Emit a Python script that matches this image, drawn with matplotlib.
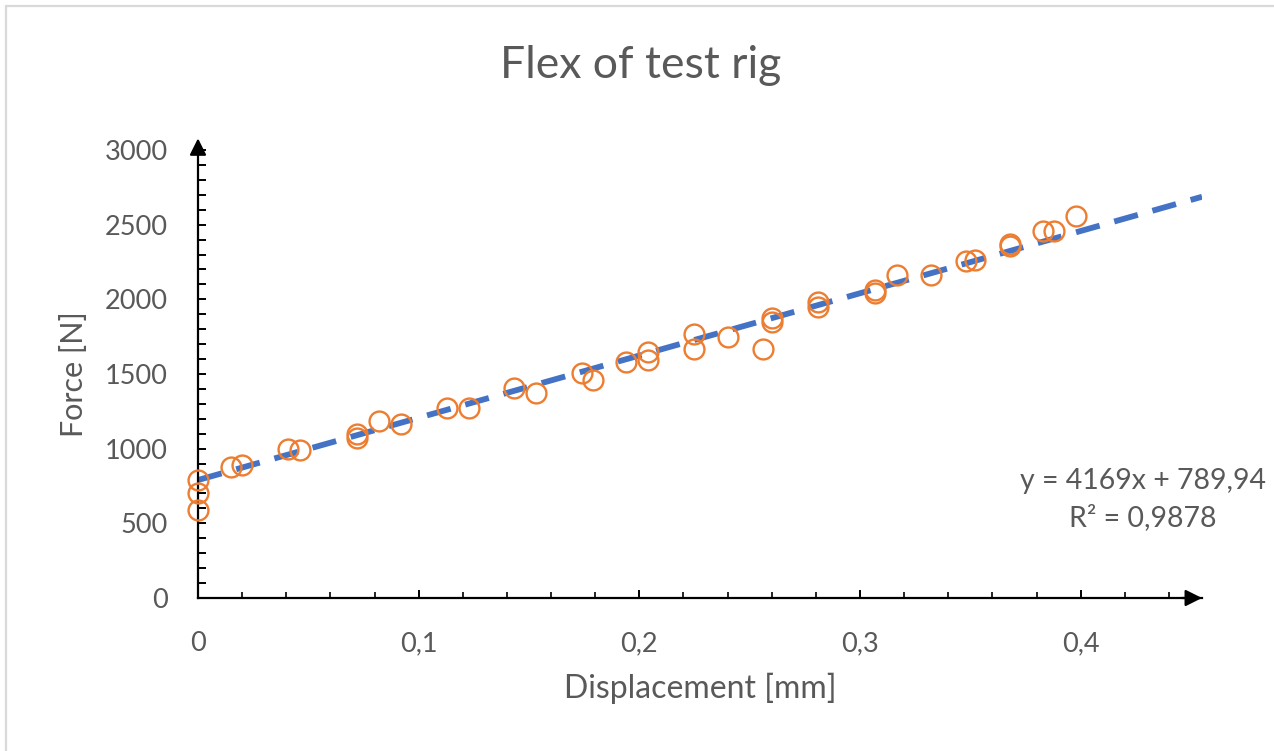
import numpy as np
import matplotlib
matplotlib.use("Agg")
import matplotlib.pyplot as plt
from matplotlib.patches import Rectangle
from matplotlib.ticker import MultipleLocator, FuncFormatter

# measured points: displacement [mm] vs force [N]
displacement = [0.0, 0.0, 0.0, 0.015, 0.020, 0.041, 0.046, 0.072, 0.072,
                0.082, 0.092, 0.113, 0.123, 0.143, 0.153, 0.174, 0.179,
                0.194, 0.204, 0.204, 0.225, 0.225, 0.240, 0.256, 0.260,
                0.260, 0.281, 0.281, 0.307, 0.307, 0.317, 0.332, 0.348,
                0.352, 0.368, 0.368, 0.383, 0.388, 0.398]
force = [790, 700, 590, 880, 890, 1000, 990, 1100, 1070,
         1185, 1165, 1275, 1275, 1405, 1375, 1510, 1460,
         1580, 1645, 1595, 1765, 1670, 1745, 1670, 1875,
         1850, 1980, 1950, 2065, 2045, 2165, 2165, 2260,
         2265, 2370, 2355, 2455, 2460, 2560]

# linear trendline as reported
slope = 4169
intercept = 789.94
trend_x = [0.0, 0.455]
eq_text = "y = 4169x + 789,94"
r2_text = "R² = 0,9878"

orange = '#ED7D31'
blue = '#4472C4'
grey = '#595959'

plt.rcParams['font.family'] = ['Lato', 'DejaVu Sans']

fig = plt.figure(figsize=(12.74, 7.51), dpi=100)
ax = fig.add_axes([198 / 1274, 1 - 598 / 751, (1202 - 198) / 1274, 448 / 751])

# chart border (Excel-style, partly cropped)
fig.patches.append(Rectangle((6 / 1274, -0.05), 1.1, 1 - 6 / 751 + 0.05,
                             transform=fig.transFigure, fill=False,
                             edgecolor='#D9D9D9', lw=1.6))

tx = np.array(trend_x)
ax.plot(tx, slope * tx + intercept, color=blue, lw=4.2,
        linestyle=(0, (4.2, 2.6)), zorder=2)
ax.plot(displacement, force, 'o', mfc='none', mec=orange, ms=14.3,
        mew=1.7, zorder=3, clip_on=False)

ax.set_xlim(0, 0.455)
ax.set_ylim(0, 3000)

for s in ['top', 'right']:
    ax.spines[s].set_visible(False)
for s in ['left', 'bottom']:
    ax.spines[s].set_color('black')
    ax.spines[s].set_linewidth(1.6)

ax.xaxis.set_major_locator(MultipleLocator(0.1))
ax.xaxis.set_minor_locator(MultipleLocator(0.02))
ax.yaxis.set_major_locator(MultipleLocator(500))
ax.yaxis.set_minor_locator(MultipleLocator(100))
ax.xaxis.set_major_formatter(FuncFormatter(
    lambda v, p: '0' if abs(v) < 1e-9 else f'{v:.1f}'.replace('.', ',')))

ax.tick_params(axis='x', which='major', direction='in', length=6, width=1.4,
               pad=24, labelsize=19.5, labelcolor=grey)
ax.tick_params(axis='x', which='minor', direction='in', length=4, width=1.2)
ax.tick_params(axis='y', which='both', direction='in', length=6, width=1.4)
ax.tick_params(axis='y', which='major', pad=22, labelsize=19.5, labelcolor=grey)

# axis arrows
ax.annotate('', xy=(0, 1.026), xytext=(0, 0.99), xycoords='axes fraction',
            arrowprops=dict(arrowstyle='-|>,head_length=1.0,head_width=0.5',
                            color='black', lw=1.6, shrinkA=0, shrinkB=0))
ax.annotate('', xy=(1.0, 0), xytext=(0.98, 0), xycoords='axes fraction',
            arrowprops=dict(arrowstyle='-|>,head_length=1.0,head_width=0.5',
                            color='black', lw=1.6, shrinkA=0, shrinkB=0))

ax.set_xlabel('Displacement [mm]', fontsize=23, color=grey, labelpad=12)
ax.set_ylabel('Force [N]', fontsize=22, color=grey, labelpad=12)
fig.text(641 / 1274, 1 - 66 / 751, 'Flex of test rig', fontsize=32,
         color=grey, ha='center', va='center')

fig.text(1143 / 1274, 1 - 481 / 751, eq_text, fontsize=20.5, color=grey,
         ha='center', va='center')
fig.text(1143 / 1274, 1 - 518 / 751, r2_text, fontsize=20.5, color=grey,
         ha='center', va='center')

fig.savefig('out.png', dpi=100)
